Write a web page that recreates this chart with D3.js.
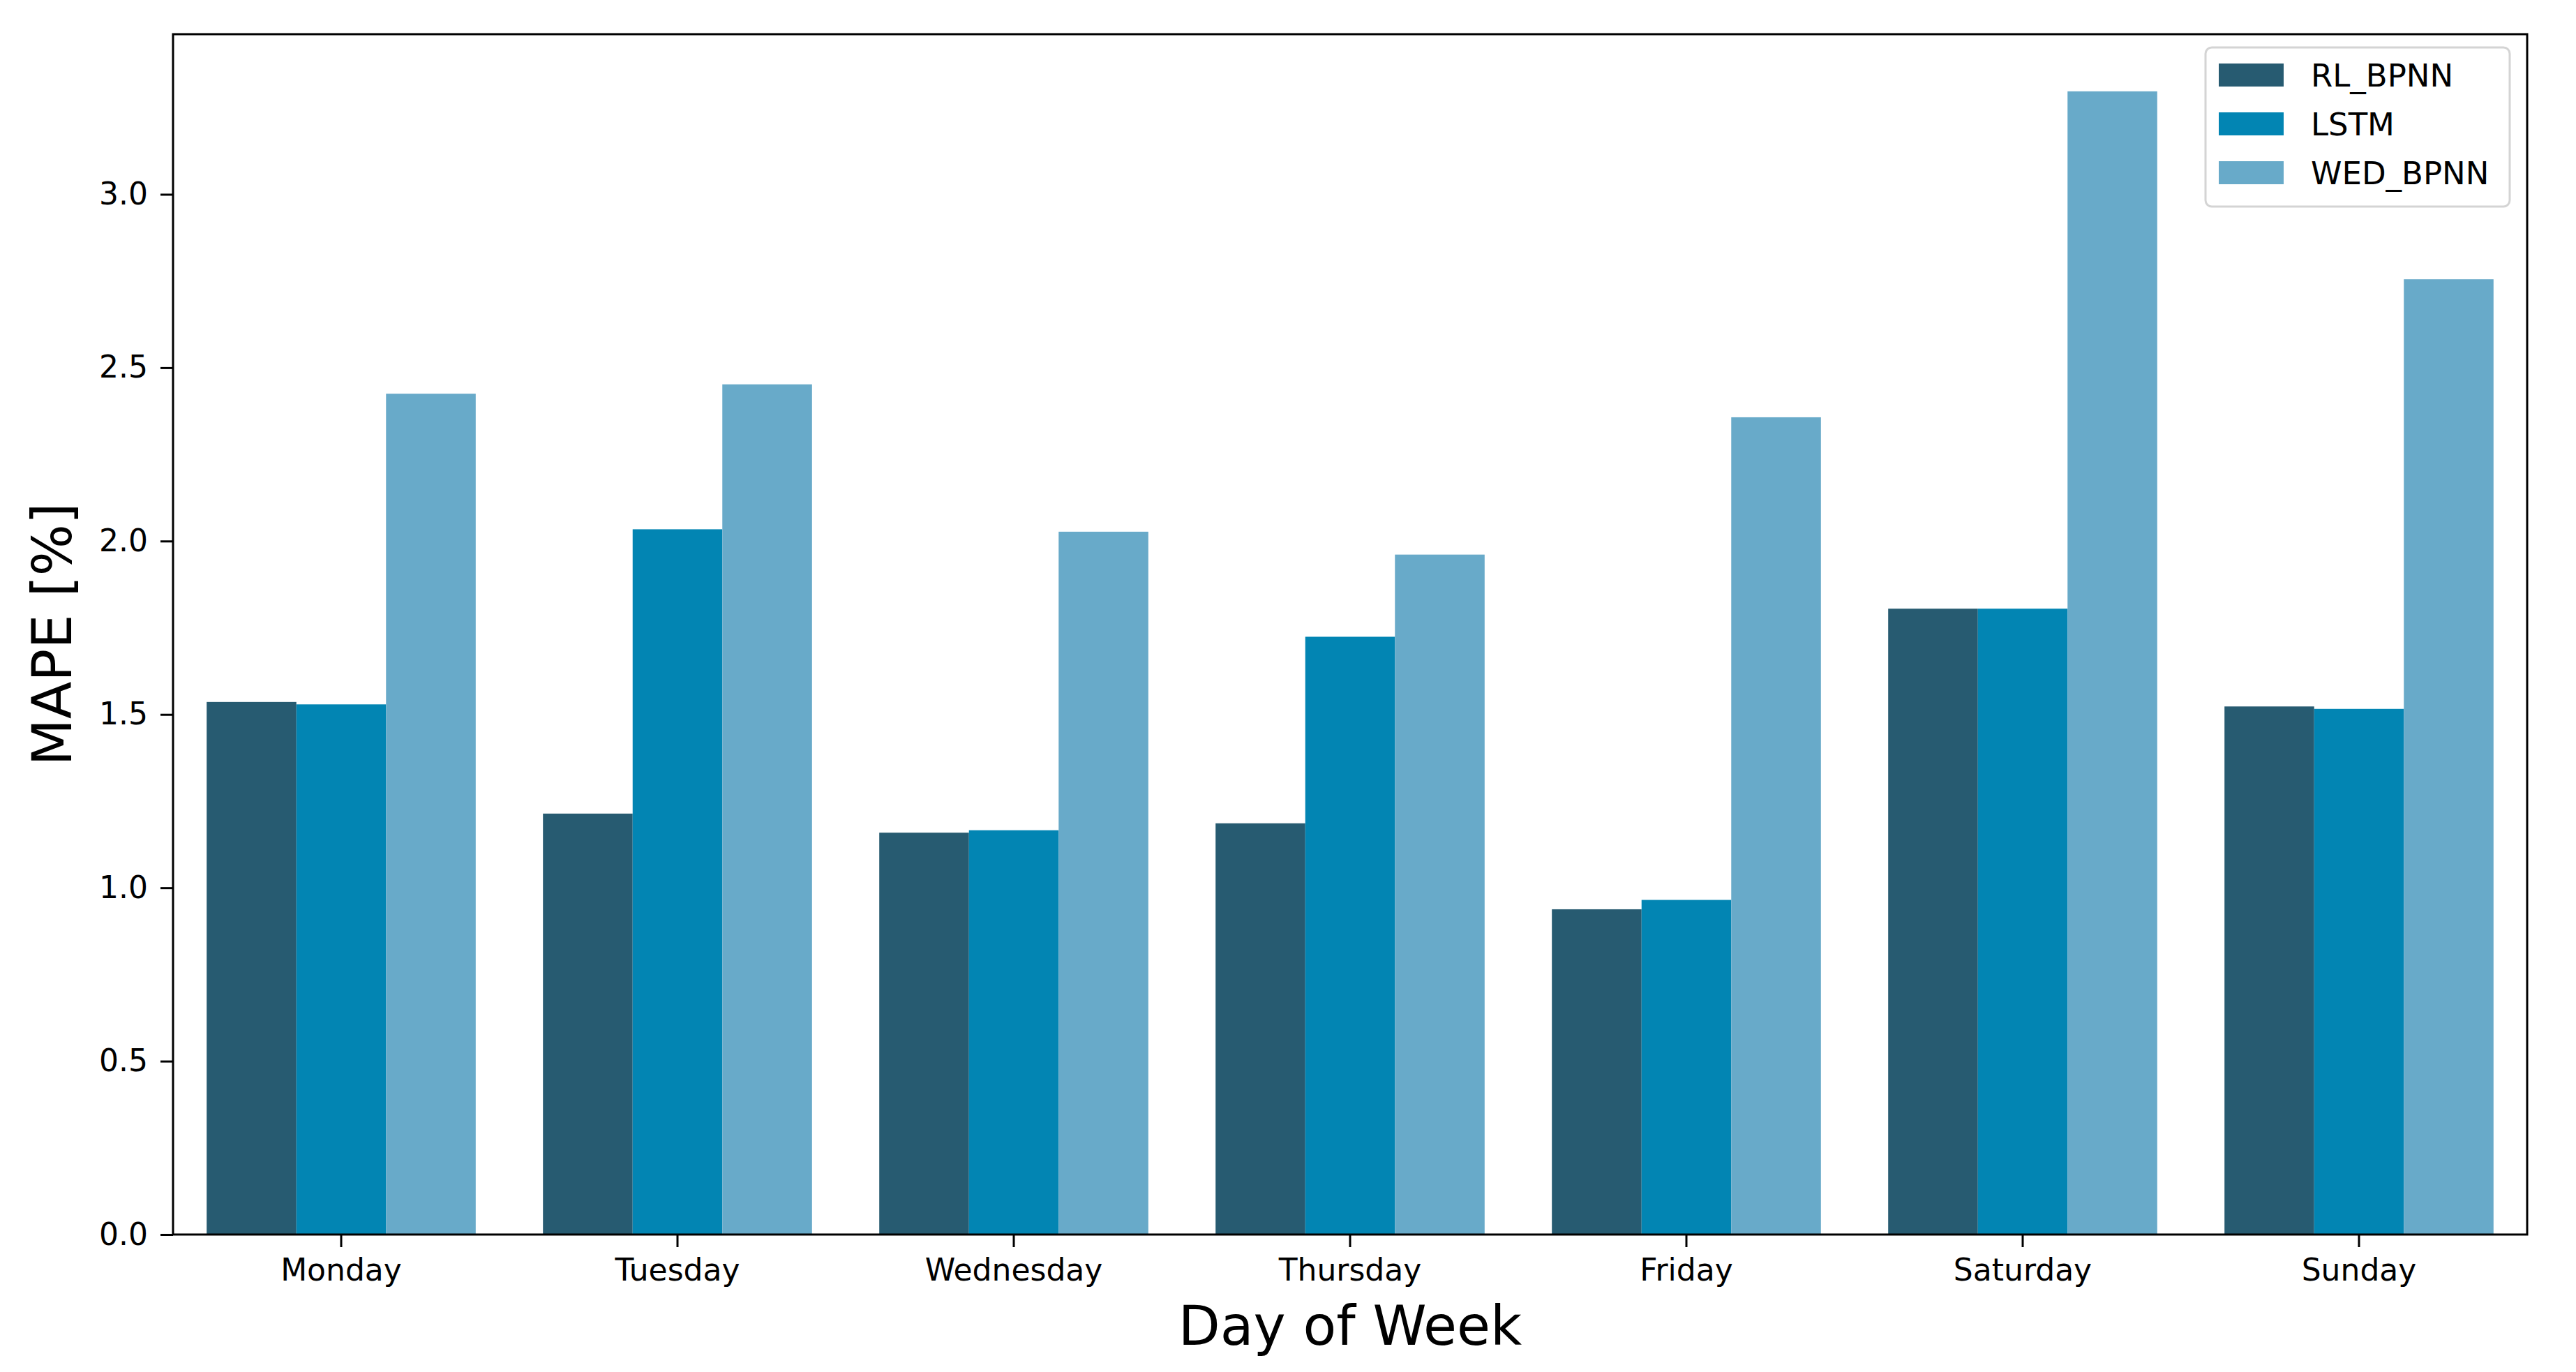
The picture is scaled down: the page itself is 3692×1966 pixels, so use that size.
<!DOCTYPE html>
<html>
<head>
<meta charset="utf-8">
<script src="https://cdn.jsdelivr.net/npm/d3@7"></script>
<style>
  body { margin: 0; background: #fff; }
  svg { display: block; font-family: "DejaVu Sans", sans-serif; }
</style>
</head>
<body>
<svg id="chart"></svg>
<script>
// values
const days = ["Monday", "Tuesday", "Wednesday", "Thursday", "Friday", "Saturday", "Sunday"];
const seriesNames = ["RL_BPNN", "LSTM", "WED_BPNN"];
const rlBpnn = [1.536, 1.214, 1.159, 1.186, 0.938, 1.805, 1.523];
const lstm = [1.529, 2.034, 1.166, 1.724, 0.965, 1.805, 1.516];
const wedBpnn = [2.425, 2.452, 2.027, 1.961, 2.357, 3.297, 2.755];
const yTicks = [0, 0.5, 1.0, 1.5, 2.0, 2.5, 3.0];

const seriesValues = [rlBpnn, lstm, wedBpnn];
const colors = ["#275b71", "#0285b3", "#68aac9"];

const width = 3692, height = 1966;
const margin = { top: 49, right: 70, bottom: 197, left: 248 };
const innerW = width - margin.left - margin.right,
  innerH = height - margin.top - margin.bottom;

const svg = d3.select("#chart")
  .attr("width", width)
  .attr("height", height)
  .attr("viewBox", [0, 0, width, height]);

const g = svg.append("g")
  .attr("transform", `translate(${margin.left},${margin.top})`);

const x = d3.scaleBand()
  .domain(days)
  .range([0, innerW])
  .paddingInner(0)
  .paddingOuter(0);

const xSub = d3.scaleBand()
  .domain(seriesNames)
  .range([x.bandwidth() * 0.1, x.bandwidth() * 0.9]);

const yMax = d3.max(seriesValues.flat()) * 1.05;
const y = d3.scaleLinear()
  .domain([0, yMax])
  .range([innerH, 0]);

// bars
const rows = days.map((day, i) => ({
  day,
  values: seriesNames.map((name, j) => ({ name, value: seriesValues[j][i], color: colors[j] }))
}));

g.append("g")
  .selectAll("g")
  .data(rows)
  .join("g")
  .attr("transform", d => `translate(${x(d.day)},0)`)
  .selectAll("rect")
  .data(d => d.values)
  .join("rect")
  .attr("x", d => xSub(d.name))
  .attr("width", xSub.bandwidth())
  .attr("y", d => y(d.value))
  .attr("height", d => innerH - y(d.value))
  .attr("fill", d => d.color);

// axes
const xAxis = g.append("g")
  .attr("transform", `translate(0,${innerH})`)
  .call(d3.axisBottom(x).tickSize(18).tickPadding(17))
  .attr("font-family", "DejaVu Sans");
xAxis.select(".domain").remove();
xAxis.selectAll(".tick line").attr("stroke", "#000").attr("stroke-width", 3);
xAxis.selectAll(".tick text").attr("font-size", 44).attr("fill", "#000");

const yAxis = g.append("g")
  .call(d3.axisLeft(y).tickValues(yTicks).tickFormat(d3.format(".1f")).tickSize(18).tickPadding(18))
  .attr("font-family", "DejaVu Sans");
yAxis.select(".domain").remove();
yAxis.selectAll(".tick line").attr("stroke", "#000").attr("stroke-width", 3);
yAxis.selectAll(".tick text").attr("font-size", 44).attr("fill", "#000");

// frame
g.append("rect")
  .attr("width", innerW)
  .attr("height", innerH)
  .attr("fill", "none")
  .attr("stroke", "#000")
  .attr("stroke-width", 3);

// axis labels
svg.append("text")
  .attr("x", margin.left + innerW / 2)
  .attr("y", 1927)
  .attr("text-anchor", "middle")
  .attr("font-size", 78)
  .text("Day of Week");

svg.append("text")
  .attr("transform", `translate(102,${margin.top + innerH / 2}) rotate(-90)`)
  .attr("text-anchor", "middle")
  .attr("font-size", 78)
  .text("MAPE [%]");

// legend
const legend = svg.append("g").attr("transform", "translate(3161,68)");
legend.append("rect")
  .attr("width", 436)
  .attr("height", 228)
  .attr("rx", 9)
  .attr("fill", "#fff")
  .attr("fill-opacity", 0.8)
  .attr("stroke", "#d4d4d4")
  .attr("stroke-width", 3);

const item = legend.selectAll("g.item")
  .data(seriesNames)
  .join("g")
  .attr("class", "item")
  .attr("transform", (d, i) => `translate(0,${23 + i * 70})`);

item.append("rect")
  .attr("x", 19)
  .attr("width", 93)
  .attr("height", 33)
  .attr("fill", (d, i) => colors[i]);

item.append("text")
  .attr("x", 151)
  .attr("y", 33)
  .attr("font-size", 45)
  .text(d => d);
</script>
</body>
</html>
